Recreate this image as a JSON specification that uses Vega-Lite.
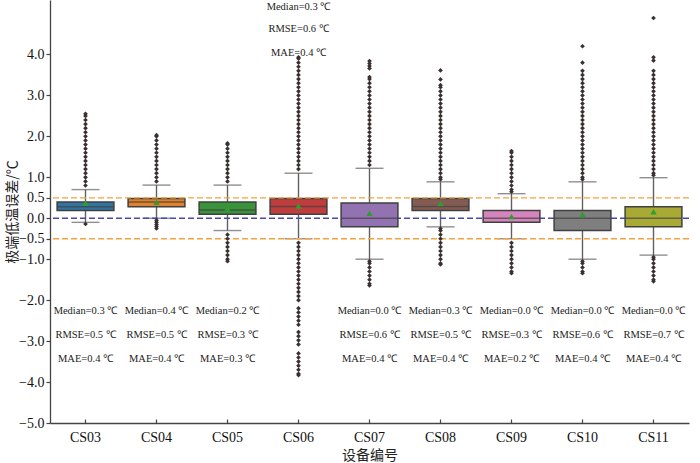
{
 "$schema": "https://vega.github.io/schema/vega-lite/v6.json",
 "width": 639, "height": 423,
 "autosize": "none",
 "padding": {"left": 50, "top": 0, "right": 11, "bottom": 40},
 "background": "white",
 "config": {"view": {"stroke": null}, "font": "Liberation Serif"},
 "resolve": {"axis": {"y": "independent"}},
 "datasets": {
  "boxes": [
   {"id":"CS03","q1":0.19,"q3":0.40,"med":0.28,"lo":-0.10,"hi":0.70,"mean":0.37},
   {"id":"CS04","q1":0.28,"q3":0.48,"med":0.40,"lo":0.00,"hi":0.81,"mean":0.39},
   {"id":"CS05","q1":0.10,"q3":0.40,"med":0.20,"lo":-0.30,"hi":0.81,"mean":0.23},
   {"id":"CS06","q1":0.10,"q3":0.48,"med":0.29,"lo":-0.50,"hi":1.10,"mean":0.30},
   {"id":"CS07","q1":-0.21,"q3":0.37,"med":0.00,"lo":-1.00,"hi":1.22,"mean":0.12},
   {"id":"CS08","q1":0.19,"q3":0.48,"med":0.29,"lo":-0.21,"hi":0.89,"mean":0.36},
   {"id":"CS09","q1":-0.10,"q3":0.19,"med":0.00,"lo":-0.50,"hi":0.60,"mean":0.04},
   {"id":"CS10","q1":-0.30,"q3":0.19,"med":0.00,"lo":-1.00,"hi":0.89,"mean":0.10},
   {"id":"CS11","q1":-0.21,"q3":0.28,"med":0.00,"lo":-0.90,"hi":0.99,"mean":0.16}
  ],
  "notes": [
   {"id":"CS03","y":-2.27,"t":"Median=0.3 ℃"},{"id":"CS03","y":-2.86,"t":"RMSE=0.5 ℃"},{"id":"CS03","y":-3.43,"t":"MAE=0.4 ℃"},
   {"id":"CS04","y":-2.27,"t":"Median=0.4 ℃"},{"id":"CS04","y":-2.86,"t":"RMSE=0.5 ℃"},{"id":"CS04","y":-3.43,"t":"MAE=0.4 ℃"},
   {"id":"CS05","y":-2.27,"t":"Median=0.2 ℃"},{"id":"CS05","y":-2.86,"t":"RMSE=0.3 ℃"},{"id":"CS05","y":-3.43,"t":"MAE=0.3 ℃"},
   {"id":"CS06","y":5.16,"t":"Median=0.3 ℃"},{"id":"CS06","y":4.61,"t":"RMSE=0.6 ℃"},{"id":"CS06","y":4.03,"t":"MAE=0.4 ℃"},
   {"id":"CS07","y":-2.27,"t":"Median=0.0 ℃"},{"id":"CS07","y":-2.86,"t":"RMSE=0.6 ℃"},{"id":"CS07","y":-3.43,"t":"MAE=0.4 ℃"},
   {"id":"CS08","y":-2.27,"t":"Median=0.3 ℃"},{"id":"CS08","y":-2.86,"t":"RMSE=0.5 ℃"},{"id":"CS08","y":-3.43,"t":"MAE=0.4 ℃"},
   {"id":"CS09","y":-2.27,"t":"Median=0.0 ℃"},{"id":"CS09","y":-2.86,"t":"RMSE=0.3 ℃"},{"id":"CS09","y":-3.43,"t":"MAE=0.2 ℃"},
   {"id":"CS10","y":-2.27,"t":"Median=0.0 ℃"},{"id":"CS10","y":-2.86,"t":"RMSE=0.6 ℃"},{"id":"CS10","y":-3.43,"t":"MAE=0.4 ℃"},
   {"id":"CS11","y":-2.27,"t":"Median=0.0 ℃"},{"id":"CS11","y":-2.86,"t":"RMSE=0.7 ℃"},{"id":"CS11","y":-3.43,"t":"MAE=0.4 ℃"}
  ],
  "fliers": [
   {"id":"CS03","v":0.8},{"id":"CS03","v":0.9},{"id":"CS03","v":1.0},{"id":"CS03","v":1.1},{"id":"CS03","v":1.2},{"id":"CS03","v":1.3},{"id":"CS03","v":1.4},{"id":"CS03","v":1.5},{"id":"CS03","v":1.6},{"id":"CS03","v":1.7},{"id":"CS03","v":1.8},{"id":"CS03","v":1.9},{"id":"CS03","v":2.0},{"id":"CS03","v":2.1},{"id":"CS03","v":2.2},{"id":"CS03","v":2.3},{"id":"CS03","v":2.4},{"id":"CS03","v":2.5},{"id":"CS03","v":2.55},{"id":"CS03","v":-0.14},
   {"id":"CS04","v":0.9},{"id":"CS04","v":1.0},{"id":"CS04","v":1.1},{"id":"CS04","v":1.2},{"id":"CS04","v":1.3},{"id":"CS04","v":1.4},{"id":"CS04","v":1.5},{"id":"CS04","v":1.6},{"id":"CS04","v":1.7},{"id":"CS04","v":1.8},{"id":"CS04","v":1.9},{"id":"CS04","v":2.0},{"id":"CS04","v":2.03},{"id":"CS04","v":-0.05},{"id":"CS04","v":-0.1},{"id":"CS04","v":-0.15},{"id":"CS04","v":-0.2},{"id":"CS04","v":-0.25},
   {"id":"CS05","v":0.9},{"id":"CS05","v":1.0},{"id":"CS05","v":1.1},{"id":"CS05","v":1.2},{"id":"CS05","v":1.3},{"id":"CS05","v":1.4},{"id":"CS05","v":1.5},{"id":"CS05","v":1.6},{"id":"CS05","v":1.7},{"id":"CS05","v":1.8},{"id":"CS05","v":1.83},{"id":"CS05","v":-0.4},{"id":"CS05","v":-0.5},{"id":"CS05","v":-0.6},{"id":"CS05","v":-0.7},{"id":"CS05","v":-0.8},{"id":"CS05","v":-0.9},{"id":"CS05","v":-1.0},{"id":"CS05","v":-1.05},
   {"id":"CS06","v":1.2},{"id":"CS06","v":1.3},{"id":"CS06","v":1.4},{"id":"CS06","v":1.5},{"id":"CS06","v":1.6},{"id":"CS06","v":1.7},{"id":"CS06","v":1.8},{"id":"CS06","v":1.9},{"id":"CS06","v":2.0},{"id":"CS06","v":2.1},{"id":"CS06","v":2.2},{"id":"CS06","v":2.3},{"id":"CS06","v":2.4},{"id":"CS06","v":2.5},{"id":"CS06","v":2.6},{"id":"CS06","v":2.7},{"id":"CS06","v":2.8},{"id":"CS06","v":2.9},{"id":"CS06","v":3.0},{"id":"CS06","v":3.1},{"id":"CS06","v":3.2},{"id":"CS06","v":3.3},{"id":"CS06","v":3.4},{"id":"CS06","v":3.5},{"id":"CS06","v":3.6},{"id":"CS06","v":3.7},{"id":"CS06","v":3.8},{"id":"CS06","v":3.9},{"id":"CS06","v":3.93},
   {"id":"CS06","v":-0.6},{"id":"CS06","v":-0.7},{"id":"CS06","v":-0.8},{"id":"CS06","v":-0.9},{"id":"CS06","v":-1.0},{"id":"CS06","v":-1.1},{"id":"CS06","v":-1.2},{"id":"CS06","v":-1.3},{"id":"CS06","v":-1.4},{"id":"CS06","v":-1.5},{"id":"CS06","v":-1.6},{"id":"CS06","v":-1.7},{"id":"CS06","v":-1.8},{"id":"CS06","v":-1.9},{"id":"CS06","v":-2.0},{"id":"CS06","v":-2.2},{"id":"CS06","v":-2.3},{"id":"CS06","v":-2.4},{"id":"CS06","v":-2.5},{"id":"CS06","v":-2.6},{"id":"CS06","v":-2.78},{"id":"CS06","v":-2.88},{"id":"CS06","v":-2.98},{"id":"CS06","v":-3.08},{"id":"CS06","v":-3.3},{"id":"CS06","v":-3.4},{"id":"CS06","v":-3.5},{"id":"CS06","v":-3.6},{"id":"CS06","v":-3.7},{"id":"CS06","v":-3.8},{"id":"CS06","v":-3.83},
   {"id":"CS07","v":1.3},{"id":"CS07","v":1.4},{"id":"CS07","v":1.5},{"id":"CS07","v":1.6},{"id":"CS07","v":1.7},{"id":"CS07","v":1.8},{"id":"CS07","v":1.9},{"id":"CS07","v":2.0},{"id":"CS07","v":2.1},{"id":"CS07","v":2.2},{"id":"CS07","v":2.3},{"id":"CS07","v":2.4},{"id":"CS07","v":2.5},{"id":"CS07","v":2.6},{"id":"CS07","v":2.7},{"id":"CS07","v":2.8},{"id":"CS07","v":2.9},{"id":"CS07","v":3.0},{"id":"CS07","v":3.1},{"id":"CS07","v":3.2},{"id":"CS07","v":3.3},{"id":"CS07","v":3.4},{"id":"CS07","v":3.45},{"id":"CS07","v":3.66},{"id":"CS07","v":3.72},{"id":"CS07","v":3.78},{"id":"CS07","v":3.84},{"id":"CS07","v":-1.05},{"id":"CS07","v":-1.1},{"id":"CS07","v":-1.2},{"id":"CS07","v":-1.3},{"id":"CS07","v":-1.4},{"id":"CS07","v":-1.5},{"id":"CS07","v":-1.6},{"id":"CS07","v":-1.64},
   {"id":"CS08","v":0.95},{"id":"CS08","v":1.0},{"id":"CS08","v":1.1},{"id":"CS08","v":1.2},{"id":"CS08","v":1.3},{"id":"CS08","v":1.4},{"id":"CS08","v":1.5},{"id":"CS08","v":1.6},{"id":"CS08","v":1.7},{"id":"CS08","v":1.8},{"id":"CS08","v":1.9},{"id":"CS08","v":2.0},{"id":"CS08","v":2.1},{"id":"CS08","v":2.2},{"id":"CS08","v":2.3},{"id":"CS08","v":2.4},{"id":"CS08","v":2.5},{"id":"CS08","v":2.6},{"id":"CS08","v":2.7},{"id":"CS08","v":2.8},{"id":"CS08","v":2.9},{"id":"CS08","v":3.0},{"id":"CS08","v":3.1},{"id":"CS08","v":3.2},{"id":"CS08","v":3.25},{"id":"CS08","v":3.39},{"id":"CS08","v":3.61},{"id":"CS08","v":-0.25},{"id":"CS08","v":-0.3},{"id":"CS08","v":-0.4},{"id":"CS08","v":-0.5},{"id":"CS08","v":-0.6},{"id":"CS08","v":-0.7},{"id":"CS08","v":-0.8},{"id":"CS08","v":-0.9},{"id":"CS08","v":-1.0},{"id":"CS08","v":-1.1},{"id":"CS08","v":-1.13},
   {"id":"CS09","v":0.65},{"id":"CS09","v":0.7},{"id":"CS09","v":0.8},{"id":"CS09","v":0.9},{"id":"CS09","v":1.0},{"id":"CS09","v":1.1},{"id":"CS09","v":1.2},{"id":"CS09","v":1.3},{"id":"CS09","v":1.4},{"id":"CS09","v":1.5},{"id":"CS09","v":1.6},{"id":"CS09","v":1.64},{"id":"CS09","v":-0.6},{"id":"CS09","v":-0.7},{"id":"CS09","v":-0.8},{"id":"CS09","v":-0.9},{"id":"CS09","v":-1.0},{"id":"CS09","v":-1.1},{"id":"CS09","v":-1.2},{"id":"CS09","v":-1.3},{"id":"CS09","v":-1.34},
   {"id":"CS10","v":0.95},{"id":"CS10","v":1.0},{"id":"CS10","v":1.1},{"id":"CS10","v":1.2},{"id":"CS10","v":1.3},{"id":"CS10","v":1.4},{"id":"CS10","v":1.5},{"id":"CS10","v":1.6},{"id":"CS10","v":1.7},{"id":"CS10","v":1.8},{"id":"CS10","v":1.9},{"id":"CS10","v":2.0},{"id":"CS10","v":2.1},{"id":"CS10","v":2.2},{"id":"CS10","v":2.3},{"id":"CS10","v":2.4},{"id":"CS10","v":2.5},{"id":"CS10","v":2.6},{"id":"CS10","v":2.7},{"id":"CS10","v":2.8},{"id":"CS10","v":2.9},{"id":"CS10","v":3.0},{"id":"CS10","v":3.1},{"id":"CS10","v":3.2},{"id":"CS10","v":3.3},{"id":"CS10","v":3.4},{"id":"CS10","v":3.5},{"id":"CS10","v":3.6},{"id":"CS10","v":3.8},{"id":"CS10","v":4.2},{"id":"CS10","v":-1.05},{"id":"CS10","v":-1.1},{"id":"CS10","v":-1.2},{"id":"CS10","v":-1.3},{"id":"CS10","v":-1.34},
   {"id":"CS11","v":1.05},{"id":"CS11","v":1.1},{"id":"CS11","v":1.2},{"id":"CS11","v":1.3},{"id":"CS11","v":1.4},{"id":"CS11","v":1.5},{"id":"CS11","v":1.6},{"id":"CS11","v":1.7},{"id":"CS11","v":1.8},{"id":"CS11","v":1.9},{"id":"CS11","v":2.0},{"id":"CS11","v":2.1},{"id":"CS11","v":2.2},{"id":"CS11","v":2.3},{"id":"CS11","v":2.4},{"id":"CS11","v":2.5},{"id":"CS11","v":2.6},{"id":"CS11","v":2.7},{"id":"CS11","v":2.8},{"id":"CS11","v":2.9},{"id":"CS11","v":3.0},{"id":"CS11","v":3.1},{"id":"CS11","v":3.2},{"id":"CS11","v":3.3},{"id":"CS11","v":3.4},{"id":"CS11","v":3.5},{"id":"CS11","v":3.6},{"id":"CS11","v":3.85},{"id":"CS11","v":3.93},{"id":"CS11","v":4.89},{"id":"CS11","v":-0.95},{"id":"CS11","v":-1.0},{"id":"CS11","v":-1.1},{"id":"CS11","v":-1.2},{"id":"CS11","v":-1.3},{"id":"CS11","v":-1.4},{"id":"CS11","v":-1.5},{"id":"CS11","v":-1.54}
  ]
 },
 "encoding": {
  "x": {"field": "id", "type": "nominal",
        "scale": {"type": "band", "domain": ["CS03","CS04","CS05","CS06","CS07","CS08","CS09","CS10","CS11"], "paddingInner": 0, "paddingOuter": 0},
        "axis": {"title": "设备编号", "titleFont": "Noto Sans CJK SC", "titleFontSize": 14, "titleFontWeight": "normal", "titleColor": "#222", "titlePadding": 4,
                 "labelAngle": 0, "labelFont": "Liberation Serif", "labelFontSize": 14, "labelColor": "#111", "labelPadding": 11,
                 "domainColor": "#444", "domainWidth": 1.3, "tickColor": "#444", "tickSize": -4, "tickWidth": 1.2, "grid": false}}
 },
 "layer": [
  {"data": {"name": "boxes"}, "mark": {"type": "rule", "color": "#606060", "strokeWidth": 1.4},
   "encoding": {"y": {"field": "lo", "type": "quantitative",
      "scale": {"domain": [-5, 5.33], "nice": false, "zero": false},
      "axis": {"values": [-5,-4,-3,-2,-1,-0.5,0,0.5,1,2,3,4], "format": ".1f", "labelOverlap": false, "labelSeparation": 0, "labelBound": false, "title": "极端低温误差/℃",
               "titleFont": "Noto Sans CJK SC", "titleFontSize": 14, "titleFontWeight": "normal", "titleColor": "#222", "titleX": -31,
               "labelFont": "Liberation Serif", "labelFontSize": 14, "labelColor": "#111", "labelPadding": 2,
               "domainColor": "#444", "domainWidth": 1.3, "tickColor": "#444", "tickSize": 4, "tickWidth": 1.2, "grid": false}},
      "y2": {"field": "hi"}}},
  {"data": {"name": "boxes"}, "mark": {"type": "tick", "color": "#606060", "size": 28, "thickness": 1.4},
   "encoding": {"y": {"field": "lo", "type": "quantitative", "axis": null}}},
  {"data": {"name": "boxes"}, "mark": {"type": "tick", "color": "#606060", "size": 28, "thickness": 1.4},
   "encoding": {"y": {"field": "hi", "type": "quantitative", "axis": null}}},
  {"data": {"values": [{"r": 0}]}, "mark": {"type": "rule", "color": "#4848b0", "strokeDash": [6, 3], "strokeWidth": 1.3},
   "encoding": {"x": null, "y": {"field": "r", "type": "quantitative", "axis": null}}},
  {"data": {"name": "boxes"}, "mark": {"type": "bar", "width": {"band": 0.8}, "stroke": "#404040", "strokeWidth": 1.5},
   "encoding": {"y": {"field": "q1", "type": "quantitative", "axis": null}, "y2": {"field": "q3"},
     "fill": {"field": "id", "type": "nominal", "legend": null,
       "scale": {"domain": ["CS03","CS04","CS05","CS06","CS07","CS08","CS09","CS10","CS11"],
                 "range": ["#3274a1","#e1812c","#3a923a","#c03d3e","#9372b2","#845b53","#d684bd","#7f7f7f","#a9aa35"]}}}},
  {"data": {"name": "boxes"}, "mark": {"type": "tick", "color": "#404040", "size": 57, "thickness": 1.5},
   "encoding": {"y": {"field": "med", "type": "quantitative", "axis": null}}},
  {"data": {"values": [{"r": 0.5}, {"r": -0.5}]}, "mark": {"type": "rule", "color": "#f5a33a", "strokeDash": [6, 3], "strokeWidth": 1.3},
   "encoding": {"x": null, "y": {"field": "r", "type": "quantitative", "axis": null}}},
  {"data": {"name": "fliers"}, "mark": {"type": "point", "shape": "diamond", "filled": true, "color": "#3a3030", "size": 22, "opacity": 1},
   "encoding": {"y": {"field": "v", "type": "quantitative", "axis": null}}},
  {"data": {"name": "boxes"}, "mark": {"type": "point", "shape": "triangle-up", "filled": true, "color": "#2ca02c", "size": 40, "opacity": 1},
   "encoding": {"y": {"field": "mean", "type": "quantitative", "axis": null}}},
  {"data": {"name": "notes"}, "mark": {"type": "text", "font": "Liberation Serif", "fontSize": 10.5, "color": "#222", "baseline": "middle", "align": "center"},
   "encoding": {"y": {"field": "y", "type": "quantitative", "axis": null}, "text": {"field": "t"}}}
 ]
}
